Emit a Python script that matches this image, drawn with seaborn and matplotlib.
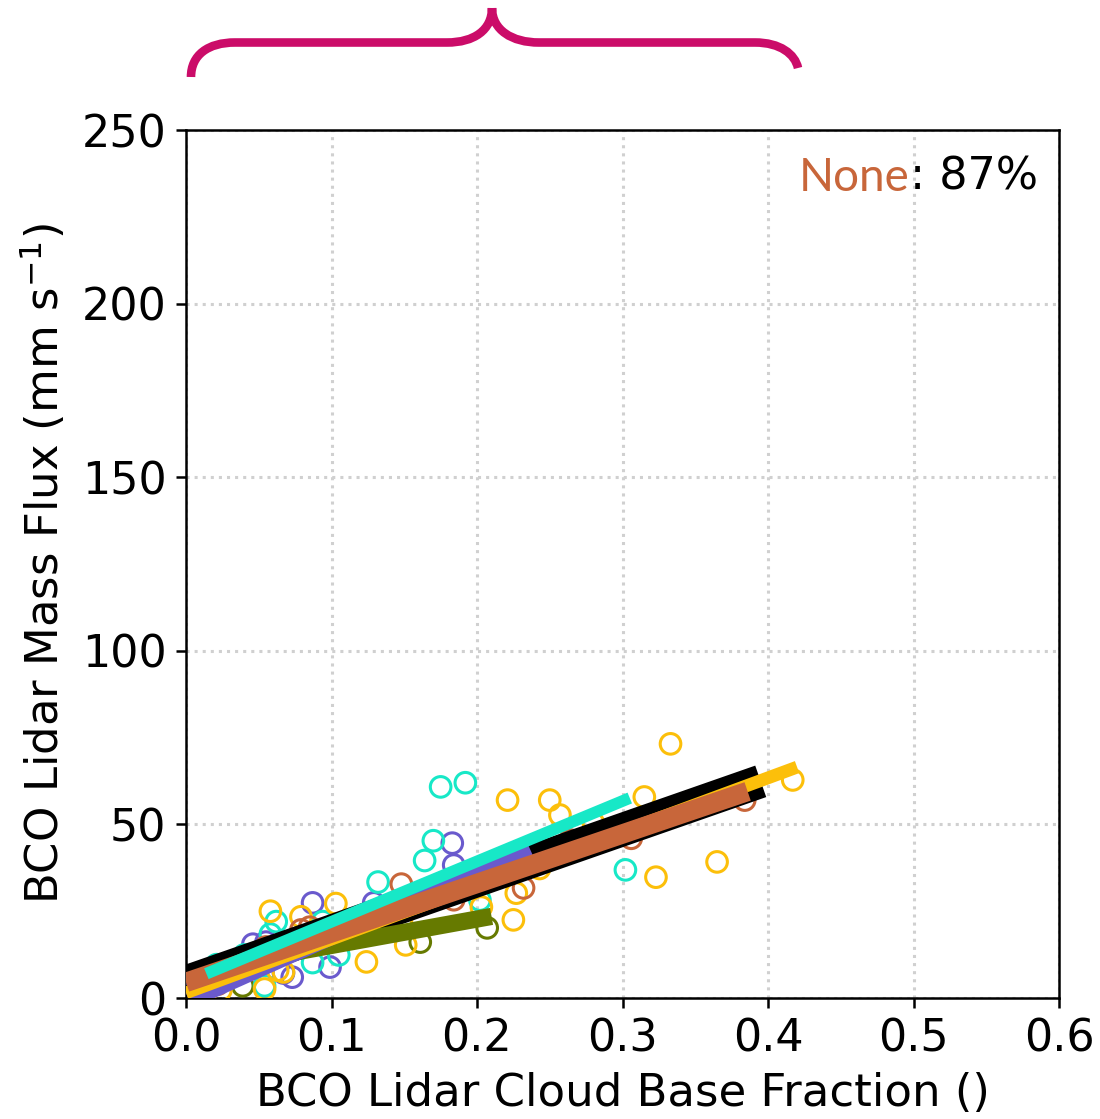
import numpy as np
import pandas as pd
import seaborn as sns
import matplotlib
matplotlib.use("Agg")
import matplotlib.pyplot as plt
from matplotlib.path import Path
from matplotlib.patches import PathPatch

# ---------------------------------------------------------------- data
# Scatter samples per group: cloud base fraction (x) and mass flux (y)
gold_x = [0.009, 0.024, 0.054, 0.058, 0.063, 0.067, 0.079, 0.103, 0.124, 0.148,
          0.151, 0.203, 0.221, 0.225, 0.227, 0.243, 0.250, 0.257, 0.280, 0.315,
          0.323, 0.333, 0.365, 0.417]
gold_y = [1.4, 2.3, 2.6, 25.0, 8.0, 7.5, 23.4, 27.2, 10.4, 22.3,
          15.3, 26.2, 57.0, 22.5, 30.2, 37.3, 57.0, 52.7, 50.4, 57.9,
          34.8, 73.2, 39.2, 62.8]

turq_x = [0.014, 0.021, 0.025, 0.030, 0.040, 0.054, 0.058, 0.062, 0.087, 0.094,
          0.105, 0.132, 0.164, 0.170, 0.175, 0.192, 0.202, 0.302]
turq_y = [7.5, 9.6, 8.6, 6.0, 12.4, 3.5, 18.4, 22.0, 10.2, 22.0,
          12.4, 33.4, 39.6, 45.3, 60.8, 62.0, 28.2, 36.9]

slate_x = [0.002, 0.046, 0.055, 0.067, 0.073, 0.087, 0.099, 0.129, 0.183, 0.184,
           0.232]
slate_y = [1.4, 15.5, 16.1, 7.2, 6.0, 27.4, 8.9, 27.4, 44.6, 38.3,
           39.5]

rust_x = [0.022, 0.055, 0.079, 0.085, 0.148, 0.184, 0.232, 0.264, 0.306, 0.384]
rust_y = [4.0, 14.7, 19.6, 20.4, 32.8, 28.3, 31.7, 45.5, 46.0, 57.0]

olive_x = [0.039, 0.161, 0.207]
olive_y = [3.5, 16.1, 20.2]

# Fitted lines: start/end points per group ("all" is the pooled fit),
# listed in drawing order
fit_groups = ["all", "olive", "slate", "gold", "rust", "turq"]
fit_x0 = [0.000, 0.039, 0.002, 0.000, 0.000, 0.014]
fit_x1 = [0.395, 0.210, 0.236, 0.420, 0.386, 0.305]
fit_y0 = [4.6, 10.5, -0.5, 1.5, 4.5, 7.0]
fit_y1 = [62.4, 23.5, 43.3, 66.5, 59.5, 57.6]

x_ticks = [0.0, 0.1, 0.2, 0.3, 0.4, 0.5, 0.6]
y_ticks = [0, 50, 100, 150, 200, 250]

pattern_label = "None"
pattern_score = ": 87%"

# ---------------------------------------------------------------- style
colors = {
    "all": "#000000",
    "olive": "#667a00",
    "gold": "#fcbf0a",
    "rust": "#c8663a",
    "slate": "#6a5acd",
    "turq": "#17e8c7",
}
fit_width = {"all": 12.0, "olive": 6.2, "gold": 4.6, "rust": 7.0,
             "slate": 6.4, "turq": 4.2}

sns.set_theme(style="ticks")
plt.rcParams["font.family"] = ["DejaVu Sans"]
plt.rcParams.update({
    "axes.edgecolor": "black",
    "axes.labelcolor": "black",
    "text.color": "black",
    "axes.linewidth": 0.9,
    "xtick.color": "black",
    "ytick.color": "black",
    "xtick.major.size": 3.5,
    "ytick.major.size": 3.5,
    "xtick.major.width": 0.9,
    "ytick.major.width": 0.9,
})

fig = plt.figure(figsize=(5.5, 5.595), dpi=200)
ax = fig.add_axes([186 / 1100, 1 - 998 / 1119, 873 / 1100, 868 / 1119])

scatter_sets = [
    ("olive", olive_x, olive_y),
    ("slate", slate_x, slate_y),
    ("turq", turq_x, turq_y),
    ("gold", gold_x, gold_y),
    ("rust", rust_x, rust_y),
]
for key, xs, ys in scatter_sets:
    df = pd.DataFrame({"fraction": xs, "flux": ys})
    sns.scatterplot(data=df, x="fraction", y="flux", ax=ax, s=55,
                    marker="o", color=colors[key], facecolor="none",
                    edgecolor=colors[key], linewidth=1.1, zorder=3)

for i, key in enumerate(fit_groups):
    ax.plot([fit_x0[i], fit_x1[i]], [fit_y0[i], fit_y1[i]],
            color=colors[key], linewidth=fit_width[key],
            solid_capstyle="butt", zorder=4 + i)

ax.set_xlim(0, 0.6)
ax.set_ylim(0, 250)
ax.set_xticks(x_ticks)
ax.set_xticklabels([f"{v:.1f}" for v in x_ticks])
ax.set_yticks(y_ticks)
ax.tick_params(labelsize=16)
ax.grid(True, color="#d0d0d0", linestyle=":", linewidth=1.1, zorder=0)
ax.set_axisbelow(True)
for sp in ax.spines.values():
    sp.set_visible(True)

ax.set_xlabel("BCO Lidar Cloud Base Fraction ()", fontsize=16.2, labelpad=4)
ax.set_ylabel("BCO Lidar Mass Flux (mm s$^{-1}$)", fontsize=16.2, labelpad=5)

# Pattern label with its score
score = ax.text(0.976, 0.931, pattern_score, transform=ax.transAxes,
                ha="right", va="baseline", fontsize=16, color="black")
ax.annotate(pattern_label, xy=(0, 0), xycoords=score, ha="right",
            va="bottom", fontsize=16.5, color=colors["rust"],
            family=["Lato", "DejaVu Sans"])

# Curly brace above the axes (pixel layout -> figure fraction)
W, H = 1100.0, 1119.0
brace_px = [
    (Path.MOVETO, (191, 77)),
    (Path.CURVE4, (191, 55)), (Path.CURVE4, (208, 42.5)), (Path.CURVE4, (235, 42.5)),
    (Path.LINETO, (447, 42.5)),
    (Path.CURVE4, (474, 42.5)), (Path.CURVE4, (492, 30)), (Path.CURVE4, (492, 8)),
    (Path.MOVETO, (492, 8)),
    (Path.CURVE4, (492, 30)), (Path.CURVE4, (512, 42.5)), (Path.CURVE4, (539, 42.5)),
    (Path.LINETO, (755, 42.5)),
    (Path.CURVE4, (780, 42.5)), (Path.CURVE4, (795, 54)), (Path.CURVE4, (798, 68)),
]
codes = [c for c, _ in brace_px]
verts = [(p[0] / W, 1 - p[1] / H) for _, p in brace_px]
brace = PathPatch(Path(verts, codes), transform=fig.transFigure,
                  facecolor="none", edgecolor="#cb0c69", linewidth=3.1,
                  capstyle="butt", joinstyle="round")
fig.add_artist(brace)

fig.savefig("out.png", dpi=200)
